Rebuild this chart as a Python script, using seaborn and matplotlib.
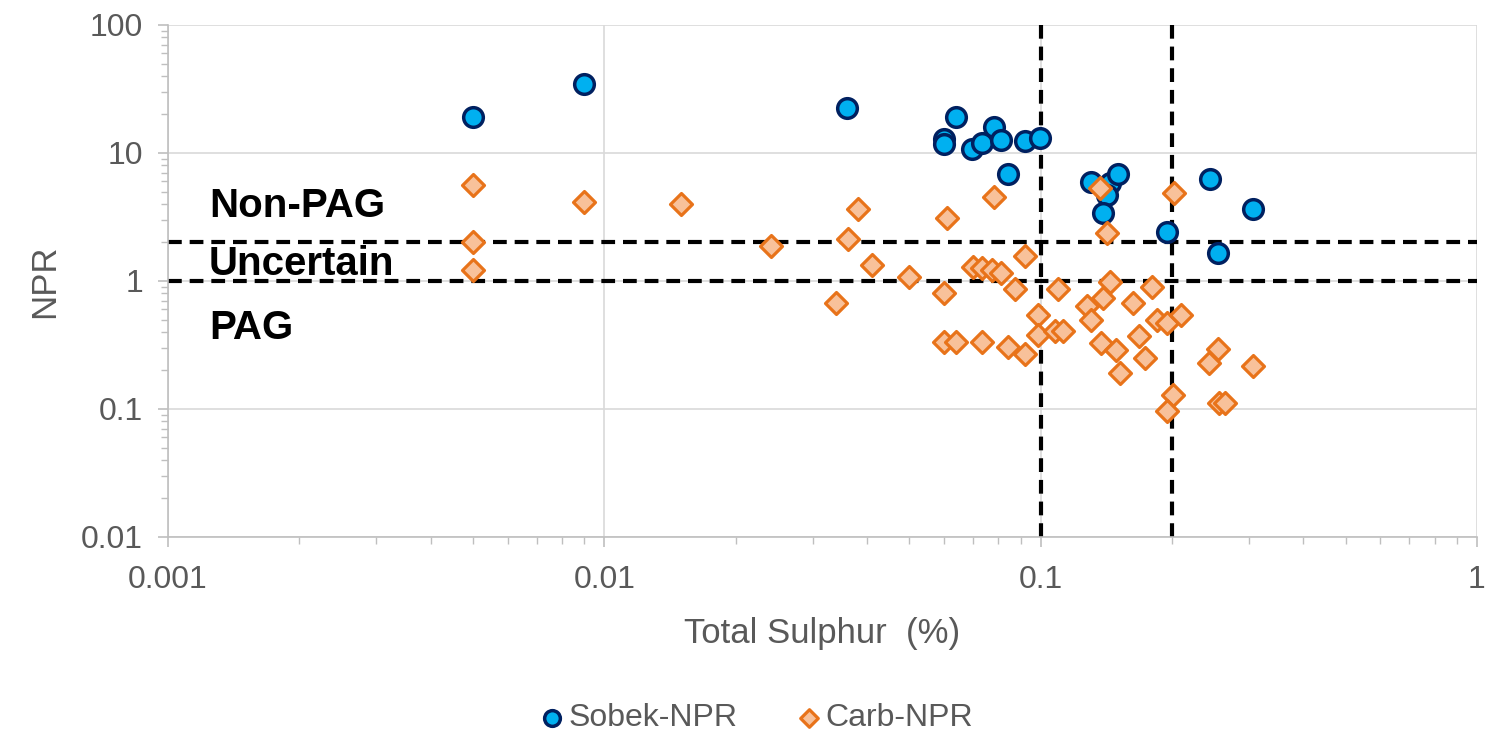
import matplotlib
matplotlib.use("Agg")
import matplotlib.pyplot as plt
import matplotlib.ticker as mticker
import seaborn as sns
import numpy as np

# ---- data ----
sobek_s = [0.005, 0.009, 0.036, 0.06, 0.06, 0.064, 0.0695, 0.0733, 0.078, 0.081,
           0.084, 0.092, 0.0997, 0.1305, 0.144, 0.150, 0.142, 0.139, 0.195, 0.244,
           0.306, 0.255]
sobek_npr = [19.1, 34.6, 22.5, 12.9, 11.7, 19.0, 10.7, 11.9, 16.1, 12.6,
             6.85, 12.4, 13.2, 5.97, 5.8, 6.85, 4.7, 3.42, 2.43, 6.23,
             3.63, 1.66]

carb_s = [0.005, 0.009, 0.015, 0.0382, 0.005, 0.0241, 0.0361, 0.041, 0.005, 0.050,
          0.034, 0.061, 0.0781, 0.1368, 0.1418, 0.2025, 0.092, 0.070, 0.0733, 0.0775,
          0.081, 0.060, 0.0873, 0.060, 0.064, 0.0733, 0.0843, 0.092, 0.0988, 0.0988,
          0.108, 0.1127, 0.1094, 0.144, 0.139, 0.128, 0.1303, 0.1626, 0.1803, 0.1845,
          0.195, 0.210, 0.168, 0.1374, 0.149, 0.173, 0.152, 0.201, 0.195, 0.243,
          0.2547, 0.306, 0.2557, 0.265]
carb_npr = [5.62, 4.12, 4.0, 3.65, 2.02, 1.89, 2.14, 1.33, 1.22, 1.07,
            0.67, 3.09, 4.56, 5.30, 2.36, 4.84, 1.56, 1.29, 1.26, 1.22,
            1.16, 0.81, 0.86, 0.336, 0.336, 0.336, 0.307, 0.269, 0.542, 0.379,
            0.407, 0.407, 0.86, 0.99, 0.733, 0.638, 0.496, 0.676, 0.893, 0.496,
            0.472, 0.542, 0.372, 0.330, 0.289, 0.249, 0.190, 0.1286, 0.097, 0.230,
            0.292, 0.217, 0.111, 0.111]

x_ticks = [0.001, 0.01, 0.1, 1]
x_tick_labels = ["0.001", "0.01", "0.1", "1"]
y_ticks = [0.01, 0.1, 1, 10, 100]
y_tick_labels = ["0.01", "0.1", "1", "10", "100"]

npr_limits = [2, 1]
s_limits = [0.1, 0.2]
zone_labels = ["Non-PAG", "Uncertain", "PAG"]

series_names = ["Sobek-NPR", "Carb-NPR"]

# ---- style ----
sns.set_theme(style="white")
plt.rcParams["font.family"] = ["Liberation Sans", "DejaVu Sans"]

grid_c = "#D9D9D9"
axis_c = "#BFBFBF"
text_c = "#595959"

fig = plt.figure(figsize=(14.88, 7.33), dpi=100)
ax = fig.add_axes([168 / 1488, 1 - 537 / 733, (1477 - 168) / 1488, (537 - 25) / 733])

ax.set_xscale("log")
ax.set_yscale("log")
ax.set_xlim(0.001, 1)
ax.set_ylim(0.01, 100)

ax.grid(True, which="major", color=grid_c, linewidth=1.2, zorder=0)
ax.set_axisbelow(True)

# threshold lines
for yv in npr_limits:
    ax.axhline(yv, color="black", linewidth=3, linestyle=(0, (3.3, 1.9)),
               dash_capstyle="butt", zorder=2)
for xv in s_limits:
    ax.axvline(xv, color="black", linewidth=3, linestyle=(0, (3.3, 1.9)),
               dash_capstyle="butt", zorder=2)

sns.scatterplot(x=sobek_s, y=sobek_npr, ax=ax, marker="o", s=200,
                color="#00B0F0", edgecolor="#002060", linewidth=2.5,
                label=series_names[0], zorder=3)
sns.scatterplot(x=carb_s, y=carb_npr, ax=ax, marker="D", s=125,
                color="#F8C19A", edgecolor="#E8731A", linewidth=2.3,
                label=series_names[1], zorder=4)

# zone labels
zone_y = [3.85, 1.36, 0.43]
for lab, yv in zip(zone_labels, zone_y):
    ax.text(0.00124, yv, lab, fontsize=29, fontweight="bold", color="black",
            va="center", ha="left", zorder=5)

# axes / ticks
ax.xaxis.set_major_locator(mticker.FixedLocator(x_ticks))
ax.xaxis.set_major_formatter(mticker.FixedFormatter(x_tick_labels))
ax.yaxis.set_major_locator(mticker.FixedLocator(y_ticks))
ax.yaxis.set_major_formatter(mticker.FixedFormatter(y_tick_labels))
ax.xaxis.set_minor_locator(mticker.LogLocator(base=10, subs=np.arange(2, 10)))
ax.yaxis.set_minor_locator(mticker.LogLocator(base=10, subs=np.arange(2, 10)))
ax.xaxis.set_minor_formatter(mticker.NullFormatter())
ax.yaxis.set_minor_formatter(mticker.NullFormatter())

ax.tick_params(axis="both", which="major", length=7, width=1.2, color=axis_c,
               labelsize=23, labelcolor=text_c, direction="out",
               bottom=True, left=True)
ax.tick_params(axis="both", which="minor", length=5, width=1.0, color=axis_c,
               direction="out", bottom=True, left=True)
ax.tick_params(axis="x", which="major", pad=13)
ax.tick_params(axis="y", which="major", pad=11)

for side in ["top", "right"]:
    ax.spines[side].set_visible(False)
for side in ["left", "bottom"]:
    ax.spines[side].set_color(axis_c)
    ax.spines[side].set_linewidth(1.2)

ax.set_xlabel("Total Sulphur  (%)", fontsize=25, color=text_c, labelpad=16)
ax.set_ylabel("NPR", fontsize=25, color=text_c, labelpad=14)

leg = ax.get_legend()
handles, labels = ax.get_legend_handles_labels()
leg.remove()
fig.legend(handles, labels, loc="center", bbox_to_anchor=(757 / 1488, 1 - 718 / 733),
           ncol=2, frameon=False, fontsize=23, markerscale=0.8,
           handlelength=0.7, handletextpad=0.15, columnspacing=1.9,
           labelcolor=text_c)

fig.savefig("out.png", dpi=100)
